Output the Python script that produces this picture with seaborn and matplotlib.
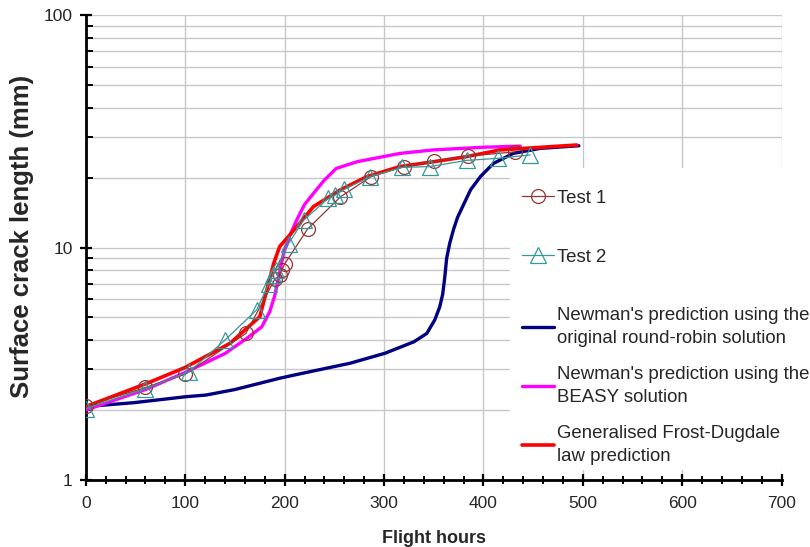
import matplotlib
matplotlib.use("Agg")
import matplotlib.pyplot as plt
import matplotlib.ticker as mticker
from matplotlib.patches import Rectangle
import seaborn as sns

# Test data (flight hours, surface crack length in mm)
test1_hours = [0, 60, 100, 161, 190, 195, 197, 200, 223, 256, 287, 320, 350, 384, 432]
test1_crack = [2.08, 2.5, 2.85, 4.27, 7.3, 7.6, 8.0, 8.5, 12.0, 16.5, 20.2, 22.3, 23.5, 24.7, 25.8]

test2_hours = [0, 60, 104, 140, 172, 184, 188, 191, 204, 219, 244, 251, 260, 286, 318, 346, 383, 415, 447]
test2_crack = [2.03, 2.47, 2.92, 4.0, 5.4, 7.0, 7.6, 8.0, 10.4, 13.1, 16.3, 16.8, 17.8, 20.2, 22.1, 22.3, 23.7, 24.2, 25.0]

# Newman's prediction, original round-robin solution
newman_rr_hours = [0, 48, 100, 121, 150, 195, 215, 266, 301, 330, 343, 351, 356, 359, 361, 363, 366, 370, 374,
                   387, 397, 410, 430, 457, 496]
newman_rr_crack = [2.07, 2.15, 2.28, 2.32, 2.45, 2.74, 2.86, 3.18, 3.51, 3.93, 4.27, 4.88, 5.55, 6.3, 7.4, 9.0,
                   10.4, 12.0, 13.5, 17.7, 20.2, 23.0, 25.4, 26.7, 27.4]

# Newman's prediction, BEASY solution
newman_beasy_hours = [0, 60, 100, 140, 162, 177, 185, 190, 195, 199, 205, 212, 220, 229, 240, 252, 273, 316,
                      350, 400, 437]
newman_beasy_crack = [2.0, 2.45, 2.9, 3.5, 4.07, 4.56, 5.3, 6.2, 7.8, 9.5, 11.2, 13.1, 15.3, 17.1, 19.5, 21.9,
                      23.4, 25.4, 26.3, 27.0, 27.3]

# Generalised Frost-Dugdale law prediction
frost_hours = [0, 61, 100, 145, 175, 182, 189, 195, 205, 229, 256, 283, 316, 350, 383, 417, 494]
frost_crack = [2.07, 2.6, 3.05, 3.87, 5.04, 6.56, 8.55, 10.1, 11.3, 15.0, 17.7, 20.2, 22.3, 23.4, 24.6, 26.3, 27.6]

sns.set_style("white")
plt.rcParams["font.family"] = ["Liberation Sans", "DejaVu Sans"]

fig = plt.figure(figsize=(8.1, 5.47), dpi=100)
ax = fig.add_axes([0.106, 0.1225, 0.859, 0.85])

line_kw = dict(sort=False, estimator=None, ax=ax)
sns.lineplot(x=newman_rr_hours, y=newman_rr_crack, color="#000080", lw=2.4, zorder=3,
             label="Newman's prediction using the\noriginal round-robin solution", **line_kw)
sns.lineplot(x=newman_beasy_hours, y=newman_beasy_crack, color="#ff00ff", lw=2.4, zorder=3,
             label="Newman's prediction using the\nBEASY solution", **line_kw)
sns.lineplot(x=frost_hours, y=frost_crack, color="#ff0000", lw=2.6, zorder=4,
             label="Generalised Frost-Dugdale\nlaw prediction", **line_kw)
sns.lineplot(x=test1_hours, y=test1_crack, color="#993333", lw=0.9, marker="o", markersize=10,
             markerfacecolor="none", markeredgecolor="#993333", markeredgewidth=0.9, zorder=5,
             label="Test 1", **line_kw)
sns.lineplot(x=test2_hours, y=test2_crack, color="#339999", lw=0.9, marker="^", markersize=11,
             markerfacecolor="none", markeredgecolor="#339999", markeredgewidth=0.9, zorder=5,
             label="Test 2", **line_kw)

ax.set_yscale("log")
ax.set_ylim(1, 100)
ax.set_xlim(0, 700)
ax.yaxis.set_major_locator(mticker.FixedLocator([1, 10, 100]))
ax.yaxis.set_major_formatter(mticker.FixedFormatter(["1", "10", "100"]))
ax.yaxis.set_minor_locator(mticker.LogLocator(base=10, subs=range(2, 10)))
ax.yaxis.set_minor_formatter(mticker.NullFormatter())
ax.xaxis.set_major_locator(mticker.MultipleLocator(100))
ax.xaxis.set_minor_locator(mticker.MultipleLocator(20))

ax.grid(True, which="major", axis="both", color="#c8c8c8", lw=1.0)
ax.grid(True, which="minor", axis="y", color="#c8c8c8", lw=1.0)
ax.set_axisbelow(True)

for side in ["top", "right"]:
    ax.spines[side].set_visible(False)
for side in ["left", "bottom"]:
    ax.spines[side].set_linewidth(2.0)
    ax.spines[side].set_color("black")

ax.tick_params(axis="both", which="major", direction="inout", length=9, width=1.6,
               labelsize=12.5, color="black")
ax.tick_params(axis="x", which="major", pad=7)
ax.tick_params(axis="y", which="major", pad=5)
ax.tick_params(axis="x", which="minor", direction="inout", length=6, width=1.4, color="black")
ax.tick_params(axis="y", which="minor", direction="in", length=5, width=1.4, color="black")
ax.tick_params(axis="x", which="both", bottom=True)
ax.tick_params(axis="y", which="both", left=True)

ax.set_xlabel("Flight hours", fontsize=13, fontweight="bold")
ax.set_ylabel("Surface crack length (mm)", fontsize=18.5, fontweight="bold")
ax.xaxis.set_label_coords(0.5, -0.107)
ax.yaxis.set_label_coords(-0.074, 0.524)

# white block behind the legend, hides the grid there
ax.add_patch(Rectangle((0.609, 0.0215), 0.391, 0.65, transform=ax.transAxes,
                       facecolor="white", edgecolor="none", zorder=2))

# legend in two blocks to mimic the spacing of the original
handles, labels = ax.get_legend_handles_labels()
hmap = dict(zip(labels, handles))
test_labels = ["Test 1", "Test 2"]
pred_labels = ["Newman's prediction using the\noriginal round-robin solution",
               "Newman's prediction using the\nBEASY solution",
               "Generalised Frost-Dugdale\nlaw prediction"]
leg_kw = dict(loc="upper left", frameon=False, fontsize=13.4, handlelength=1.72,
              handletextpad=0.2, borderpad=0.2, borderaxespad=0)
leg1 = ax.legend([hmap[l] for l in test_labels], test_labels,
                 bbox_to_anchor=(0.621, 0.632), labelspacing=2.26, **leg_kw)
ax.add_artist(leg1)
leg2 = ax.legend([hmap[l] for l in pred_labels], pred_labels,
                 bbox_to_anchor=(0.621, 0.379), labelspacing=1.07, **leg_kw)
for t in leg2.get_texts():
    t.set_linespacing(1.39)

fig.savefig("out.png", dpi=100)
